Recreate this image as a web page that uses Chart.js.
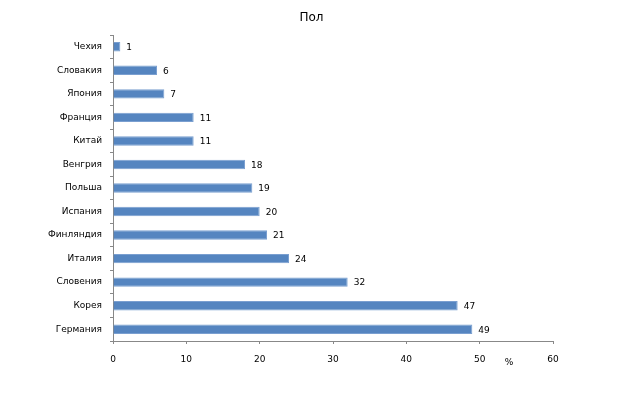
<!DOCTYPE html>
<html>
<head>
<meta charset="utf-8">
<script src="https://cdn.jsdelivr.net/npm/chart.js@4"></script>
<style>
  body { margin: 0; background: #fff; }
  #wrap { width: 623px; height: 399px; }
</style>
</head>
<body>
<div id="wrap"><canvas id="chart" width="623" height="399"></canvas></div>
<script>
var countries = ["Чехия", "Словакия", "Япония", "Франция", "Китай", "Венгрия", "Польша",
                 "Испания", "Финляндия", "Италия", "Словения", "Корея", "Германия"];
var values = [1, 6, 7, 11, 11, 18, 19, 20, 21, 24, 32, 47, 49];
var xTicks = [0, 10, 20, 30, 40, 50, 60];
var chartTitle = "Пол";
var unitLabel = "%";

var font = "DejaVu Sans";

// title centred on the whole canvas, value labels at bar ends, "%" under the axis
var labelsPlugin = {
    id: "labels",
    afterDatasetsDraw: function(chart){
        var ctx = chart.ctx;
        var meta = chart.getDatasetMeta(0);
        ctx.save();
        ctx.fillStyle = "#000";
        ctx.textBaseline = "middle";

        ctx.font = "12px '" + font + "'";
        ctx.textAlign = "center";
        ctx.fillText(chartTitle, chart.width / 2, 18);

        ctx.font = "9px '" + font + "'";
        ctx.textAlign = "left";
        meta.data.forEach(function(bar, i){
            ctx.fillText(String(values[i]), bar.x + 6, bar.y + 1);
        });
        var xs = chart.scales.x;
        ctx.textAlign = "center";
        ctx.fillText(unitLabel, xs.getPixelForValue(54), xs.top + 22);
        ctx.restore();
    }
};

new Chart(document.getElementById("chart"), {
    type: "bar",
    data: {
        labels: countries,
        datasets: [{
            data: values,
            backgroundColor: "#5585c0",
            borderColor: "#7a9fd0",
            borderWidth: 1,
            barPercentage: 0.4,
            categoryPercentage: 1.0
        }]
    },
    options: {
        indexAxis: "y",
        responsive: false,
        animation: false,
        layout: { padding: { left: 0, right: 70, top: 35, bottom: 0 } },
        plugins: {
            legend: { display: false },
            tooltip: { enabled: false },
            title: { display: false }
        },
        scales: {
            x: {
                min: 0,
                max: 60,
                afterBuildTicks: function(scale){
                    scale.ticks = xTicks.map(function(v){ return { value: v }; });
                },
                afterFit: function(scale){ scale.height = 58; },
                grid: { drawOnChartArea: false, drawTicks: true, tickLength: 3, color: "#888" },
                border: { color: "#888", dash: [2, 2] },
                ticks: { color: "#000", padding: 10, font: { family: font, size: 9 } }
            },
            y: {
                afterFit: function(scale){ scale.width = 113; },
                grid: { drawOnChartArea: false, drawTicks: true, tickLength: 3, color: "#888" },
                border: { color: "#888", dash: [2, 2] },
                ticks: { color: "#000", padding: 8, font: { family: font, size: 9 } }
            }
        }
    },
    plugins: [labelsPlugin]
});
</script>
</body>
</html>
